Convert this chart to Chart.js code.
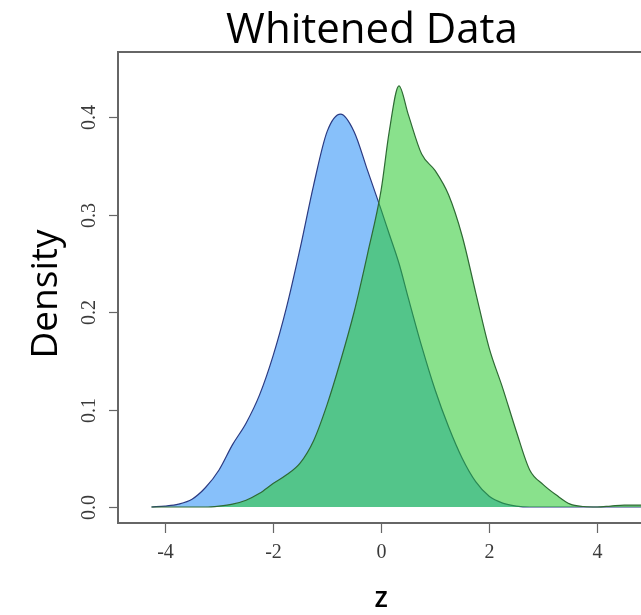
<!DOCTYPE html>
<html>
<head>
<meta charset="utf-8">
<title>Whitened Data</title>
<script src="https://cdn.jsdelivr.net/npm/chart.js@4/dist/chart.umd.min.js"></script>
<style>
  html, body { margin: 0; padding: 0; background: #fff; overflow: hidden; }
  #wrap { width: 641px; height: 615px; }
</style>
</head>
<body>
<div id="wrap"><canvas id="densityChart" width="641" height="615"></canvas></div>
<script>
// density estimates sampled on a common z grid
const zGrid = [-4.25, -4.0, -3.75, -3.5, -3.25, -3.0, -2.75, -2.5, -2.25, -2.0, -1.75, -1.5, -1.25, -1.0, -0.75, -0.5, -0.25, 0.0, 0.15, 0.33, 0.5, 0.75, 1.0, 1.25, 1.5, 1.75, 2.0, 2.25, 2.5, 2.75, 3.0, 3.25, 3.5, 3.75, 4.0, 4.25, 4.5, 4.75, 5.0];
const blueDensity = [0.000, 0.001, 0.003, 0.008, 0.020, 0.038, 0.064, 0.086, 0.115, 0.155, 0.205, 0.265, 0.330, 0.385, 0.403, 0.385, 0.345, 0.305, 0.280, 0.250, 0.215, 0.165, 0.120, 0.082, 0.050, 0.026, 0.011, 0.004, 0.001, 0.000, 0.000, 0.000, 0.000, 0.000, 0.000, 0.000, 0.000, 0.000, 0.000];
const greenDensity = [0.000, 0.000, 0.000, 0.000, 0.000, 0.001, 0.003, 0.007, 0.014, 0.024, 0.033, 0.045, 0.068, 0.105, 0.150, 0.200, 0.260, 0.325, 0.385, 0.432, 0.403, 0.362, 0.345, 0.320, 0.278, 0.220, 0.163, 0.122, 0.078, 0.038, 0.023, 0.012, 0.003, 0.0005, 0.000, 0.001, 0.002, 0.002, 0.001];

const xTicks = [-4, -2, 0, 2, 4];
const yTicks = [0, 0.1, 0.2, 0.3, 0.4];
const yTickLabels = ['0.0', '0.1', '0.2', '0.3', '0.4'];

function toPoints(xs, ys) {
  return xs.map((x, i) => ({ x: x, y: ys[i] }));
}

// frame, ticks and text drawn the way base R plots look
const axesPlugin = {
  id: 'rStyleAxes',
  afterDraw(chart) {
    const ctx = chart.ctx;
    const area = chart.chartArea;
    const xs = chart.scales.x;
    const ys = chart.scales.y;
    ctx.save();

    // box (right side runs off the canvas)
    ctx.strokeStyle = '#666';
    ctx.lineWidth = 2;
    ctx.beginPath();
    ctx.moveTo(chart.width + 2, area.top);
    ctx.lineTo(area.left, area.top);
    ctx.lineTo(area.left, area.bottom);
    ctx.lineTo(chart.width + 2, area.bottom);
    ctx.stroke();

    ctx.lineWidth = 1.2;
    ctx.fillStyle = '#3a3a3a';
    ctx.font = '20px "Liberation Serif", "DejaVu Serif", serif';

    // x ticks
    ctx.textAlign = 'center';
    ctx.textBaseline = 'middle';
    xTicks.forEach(v => {
      const px = Math.round(xs.getPixelForValue(v)) + 0.5;
      ctx.beginPath();
      ctx.moveTo(px, area.bottom);
      ctx.lineTo(px, area.bottom + 10);
      ctx.stroke();
      ctx.fillText(String(v), px, area.bottom + 30);
    });

    // y ticks, labels turned sideways
    yTicks.forEach((v, i) => {
      const py = Math.round(ys.getPixelForValue(v)) + 0.5;
      ctx.beginPath();
      ctx.moveTo(area.left - 9, py);
      ctx.lineTo(area.left, py);
      ctx.stroke();
      ctx.save();
      ctx.translate(area.left - 28, py);
      ctx.rotate(-Math.PI / 2);
      ctx.fillText(yTickLabels[i], 0, 0);
      ctx.restore();
    });

    // titles
    ctx.fillStyle = '#000';
    ctx.textBaseline = 'alphabetic';
    ctx.font = '42px "Open Sans", "Noto Sans", sans-serif';
    ctx.fillText('Whitened Data', 372, 43);

    ctx.font = '600 28px "Open Sans", "Noto Sans", sans-serif';
    ctx.fillText('z', xs.getPixelForValue(0), 607);

    ctx.save();
    ctx.translate(57, 294);
    ctx.rotate(-Math.PI / 2);
    ctx.font = '37px "Open Sans", "Noto Sans", sans-serif';
    ctx.fillText('Density', 0, 0);
    ctx.restore();

    ctx.restore();
  }
};

const ctx = document.getElementById('densityChart').getContext('2d');
const densityChart = new Chart(ctx, {
  type: 'line',
  data: {
    datasets: [
      {
        label: 'green',
        data: toPoints(zGrid, greenDensity),
        borderColor: '#2e6a34',
        backgroundColor: 'rgba(40, 200, 45, 0.55)',
        borderWidth: 1.2,
        fill: 'origin',
        pointRadius: 0,
        cubicInterpolationMode: 'monotone'
      },
      {
        label: 'blue',
        data: toPoints(zGrid, blueDensity),
        borderColor: '#2b3a82',
        backgroundColor: 'rgb(135, 192, 250)',
        borderWidth: 1.2,
        fill: 'origin',
        pointRadius: 0,
        cubicInterpolationMode: 'monotone'
      }
    ]
  },
  options: {
    responsive: false,
    animation: false,
    layout: { padding: { left: 118, top: 52, right: 0, bottom: 92 } },
    plugins: {
      legend: { display: false },
      tooltip: { enabled: false },
      title: { display: false }
    },
    scales: {
      x: { type: 'linear', display: false, min: -4.87, max: 4.81 },
      y: { type: 'linear', display: false, min: -0.0164, max: 0.4667 }
    }
  },
  plugins: [axesPlugin]
});
</script>
</body>
</html>
